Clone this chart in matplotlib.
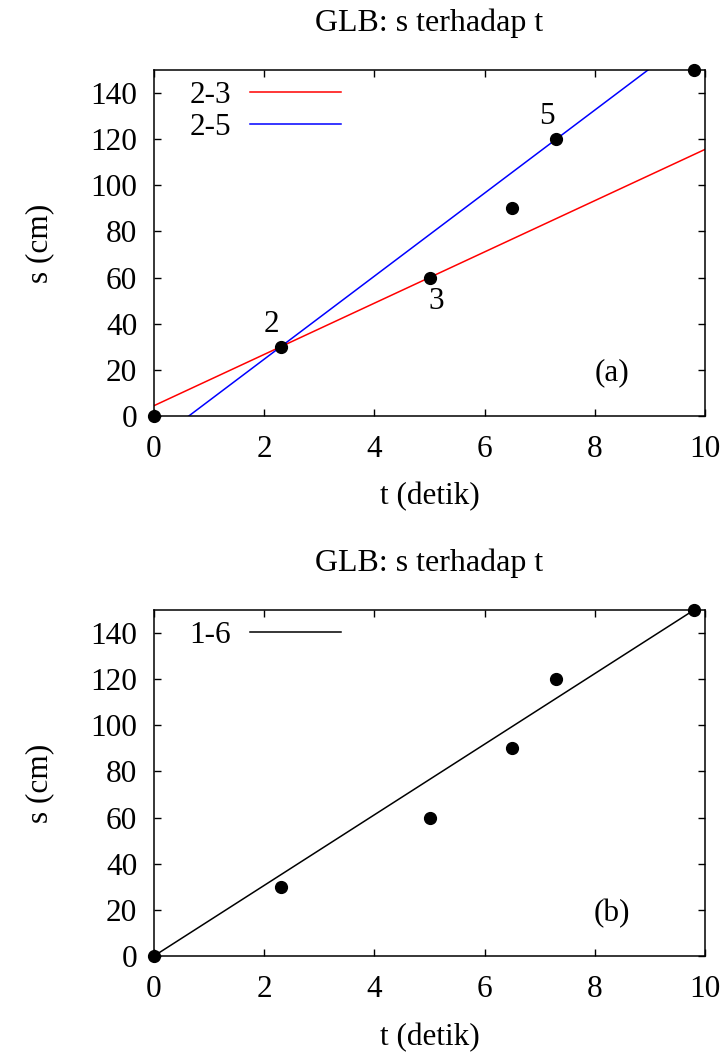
import numpy as np
import matplotlib.pyplot as plt

plt.rcParams['font.family'] = ['Liberation Serif', 'DejaVu Serif']
plt.rcParams['font.size'] = 22

# data points
t = [0, 2.3, 5.0, 6.5, 7.3, 9.8]
s = [0, 30, 60, 90, 120, 150]

FS = 22.5


def fit_line(i, j):
    m = (s[j] - s[i]) / (t[j] - t[i])
    c = s[i] - m * t[i]
    return m, c


def style_ax(ax):
    ax.set_xlim(0, 10)
    ax.set_ylim(0, 150)
    ax.set_xticks(np.arange(0, 11, 2))
    ax.set_yticks(np.arange(0, 141, 20))
    ax.tick_params(direction='in', top=True, right=True, length=5, width=1,
                   labelsize=FS)
    ax.tick_params(axis='x', pad=14)
    ax.tick_params(axis='y', pad=12)
    for sp in ax.spines.values():
        sp.set_linewidth(1.1)
    ax.set_xlabel('t (detik)', fontsize=FS, labelpad=13)
    ax.set_ylabel('s (cm)', fontsize=FS, labelpad=26)
    ax.set_title('GLB: s terhadap t', fontsize=23, pad=28)


def add_legend(ax):
    ax.legend(loc='upper left', frameon=False, markerfirst=False,
              handlelength=2.9, fontsize=FS, labelspacing=0.1,
              borderaxespad=0.0, borderpad=0.35, handletextpad=0.6,
              bbox_to_anchor=(0.045, 1.0))


fig = plt.figure(figsize=(7.27, 10.53), dpi=100)
ax1 = fig.add_axes([0.2118, 0.605, 0.758, 0.3286])
ax2 = fig.add_axes([0.2118, 0.0921, 0.758, 0.3286])

xx = np.linspace(0, 10, 200)

# (a)
m23, c23 = fit_line(1, 2)
m25, c25 = fit_line(1, 4)
ax1.plot(xx, m23 * xx + c23, color='#ff0000', lw=1.1, label='2-3')
ax1.plot(xx, m25 * xx + c25, color='#0000ff', lw=1.1, label='2-5')
ax1.plot(t, s, 'o', color='black', ms=8.5, clip_on=False, zorder=5)
ax1.annotate('2', (t[1], s[1]), xytext=(-7, 16), textcoords='offset points',
             ha='center', va='center', fontsize=FS)
ax1.annotate('3', (t[2], s[2]), xytext=(5, -17), textcoords='offset points',
             ha='center', va='center', fontsize=FS)
ax1.annotate('5', (t[4], s[4]), xytext=(-7, 16.5), textcoords='offset points',
             ha='center', va='center', fontsize=FS)
ax1.text(0.831, 0.124, '(a)', transform=ax1.transAxes, ha='center',
         va='center', fontsize=FS)
style_ax(ax1)
add_legend(ax1)

# (b)
m16, c16 = fit_line(0, 5)
ax2.plot(xx, m16 * xx + c16, color='black', lw=1.1, label='1-6')
ax2.plot(t, s, 'o', color='black', ms=8.5, clip_on=False, zorder=5)
ax2.text(0.831, 0.124, '(b)', transform=ax2.transAxes, ha='center',
         va='center', fontsize=FS)
style_ax(ax2)
add_legend(ax2)

fig.savefig('out.png', dpi=100)
